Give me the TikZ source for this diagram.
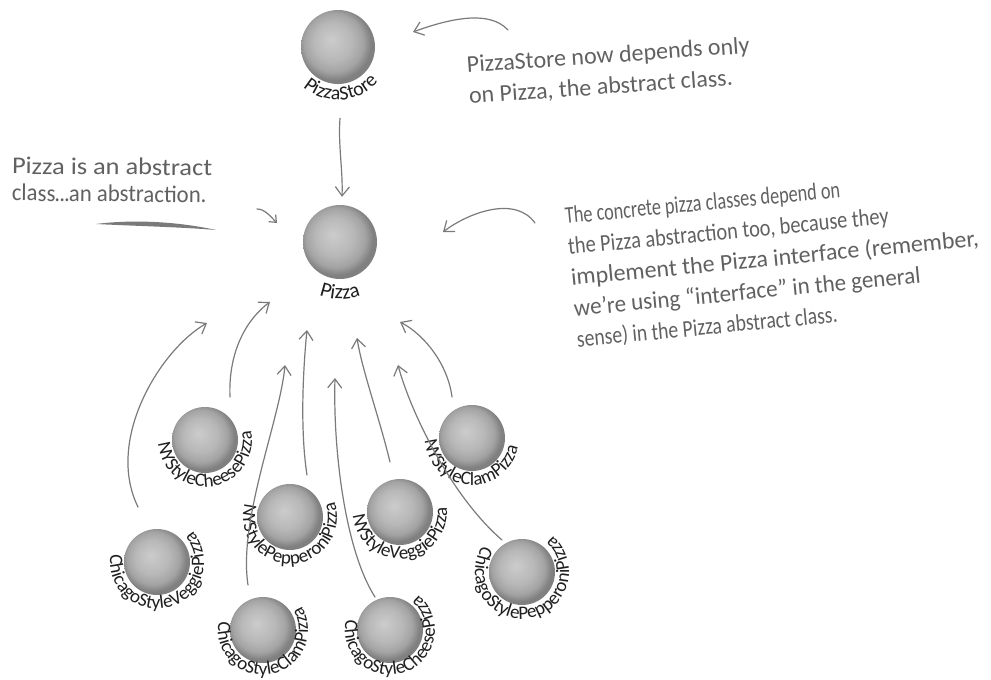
\documentclass[tikz,border=0pt]{standalone}
\usepackage{fontspec}
\usepackage{graphicx}
\setmainfont{Carlito}
\usetikzlibrary{arrows.meta,decorations.text}
\pgfdeclareradialshading{sphereshade}{\pgfpoint{-5bp}{5bp}}{color(0bp)=(black!20); color(13bp)=(black!28); color(20bp)=(black!36); color(25bp)=(black!50); color(50bp)=(black!50)}
\definecolor{txtc}{gray}{0.38}
\definecolor{lblc}{gray}{0.12}
\definecolor{arrc}{gray}{0.48}
\newcommand{\lblfont}{\fontsize{19}{19}\selectfont}
% node, text, mid angle, baseline radius, font
\newcommand{\arclabel}[5]{%
  \path[decorate, decoration={text along path, text={|#5|#2}, text align=center, text color=lblc}]
    ([shift={(#3+140:#4)}]#1.center) arc[start angle=#3+140, end angle=#3-140, radius=#4];}
\begin{document}
\begin{tikzpicture}[x=1pt,y=-1pt,
  sph/.style={circle, minimum size=66pt, inner sep=0pt, shade, shading=sphereshade},
  bigsph/.style={sph, minimum size=74pt},
  arr/.style={draw=arrc, line width=1.2pt, line cap=round, -{Straight Barb[length=9pt,width=14pt]}},
  note/.style={text=txtc, font=\fontsize{24}{31}\selectfont, align=left, inner sep=0pt}]
\useasboundingbox (0,0) rectangle (991,680);

% spheres
\node[bigsph] (store) at (338,47) {};
\node[bigsph] (pizza) at (340,242) {};
\node[sph] (nycheese) at (205,440) {};
\node[sph] (nypep) at (290,517) {};
\node[sph] (nyveggie) at (400,512) {};
\node[sph] (nyclam) at (472,438) {};
\node[sph] (chveggie) at (157,562) {};
\node[sph] (chclam) at (263,630) {};
\node[sph] (chcheese) at (390,630) {};
\node[sph] (chpep) at (522,572) {};

% curved labels
\arclabel{store}{PizzaStore}{86}{53}{\fontsize{20}{20}\selectfont}
\arclabel{pizza}{Pizza}{90}{57}{\fontsize{21}{21}\selectfont}
\arclabel{nycheese}{NYStyleCheesePizza}{82}{47}{\lblfont}
\arclabel{nypep}{NYStylePepperoniPizza}{89}{47}{\lblfont}
\arclabel{nyveggie}{NYStyleVeggiePizza}{85}{47}{\lblfont}
\arclabel{nyclam}{NYStyleClamPizza}{94}{47}{\lblfont}
\arclabel{chveggie}{ChicagoStyleVeggiePizza}{74}{47}{\lblfont}
\arclabel{chclam}{ChicagoStyleClamPizza}{80}{45}{\lblfont}
\arclabel{chcheese}{ChicagoStyleCheesePizza}{71}{45}{\lblfont}
\arclabel{chpep}{ChicagoStylePepperoniPizza}{82}{47}{\lblfont}

% annotations
\node[note, rotate=4, anchor=north west] (n1) at (466,56)
  {PizzaStore now depends only\\on Pizza, the abstract class.};
\node[note, rotate=-0.5, anchor=north west, font=\fontsize{24}{27}\selectfont] (n2) at (12,157)
  {\scalebox{1.1}[1]{Pizza is an abstract}\\\scalebox{0.95}[1]{class\kern-1pt.\kern-1pt.\kern-1pt.\kern-1pt an abstraction.}};
\node[note, rotate=5.5, anchor=north west] (n3) at (564,207)
  {\scalebox{0.76}[1]{The concrete pizza classes depend on}\\
   \scalebox{0.85}[1]{the Pizza abstraction too, because they}\\
   implement the Pizza interface (remember,\\
   \scalebox{0.96}[1]{we’re using “interface” in the general}\\
   \scalebox{0.82}[1]{sense) in the Pizza abstract class.}};

% underline stroke
\fill[arrc] (96,224) .. controls (135,219) and (180,222) .. (216,230)
  .. controls (180,227) and (135,226) .. (96,224) -- cycle;

% annotation arrows
\draw[arr] ([shift={(170,-17)}]store.center) .. controls (488,8) and (443,21) .. ([shift={(75,-15)}]store.center);
\draw[arr] ([shift={(195,-19)}]pizza.center) .. controls (515,195) and (468,213) .. ([shift={(103,-10)}]pizza.center);
\draw[arr, -{Straight Barb[length=6pt,width=10pt]}] ([shift={(-83,-33)}]pizza.center) .. controls (265,209) and (271,217) .. ([shift={(-63,-19)}]pizza.center);

% dependency arrows
\draw[arr] ([shift={(2,34)}]store.south) .. controls (338,145) and (343,170) .. ([shift={(2,-8)}]pizza.north);
\draw[arr] ([shift={(-19,-55)}]chveggie.center) .. controls (105,440) and (160,350) .. ([shift={(-133,81)}]pizza.center);
\draw[arr] ([shift={(25,-43)}]nycheese.center) .. controls (228,350) and (248,318) .. ([shift={(-70,60)}]pizza.center);
\draw[arr] ([shift={(-15,-45)}]chclam.center) .. controls (238,520) and (280,420) .. ([shift={(-55,123)}]pizza.center);
\draw[arr] ([shift={(17,-42)}]nypep.center) .. controls (300,430) and (303,370) .. ([shift={(-33,88)}]pizza.center);
\draw[arr] ([shift={(-15,-33)}]chcheese.center) .. controls (345,550) and (333,450) .. ([shift={(-5,136)}]pizza.center);
\draw[arr] ([shift={(-10,-50)}]nyveggie.center) .. controls (380,420) and (362,370) .. ([shift={(17,96)}]pizza.center);
\draw[arr] ([shift={(-20,-32)}]chpep.center) .. controls (450,495) and (410,410) .. ([shift={(58,123)}]pizza.center);
\draw[arr] ([shift={(-20,-41)}]nyclam.center) .. controls (448,365) and (425,335) .. ([shift={(60,80)}]pizza.center);
\end{tikzpicture}
\end{document}
